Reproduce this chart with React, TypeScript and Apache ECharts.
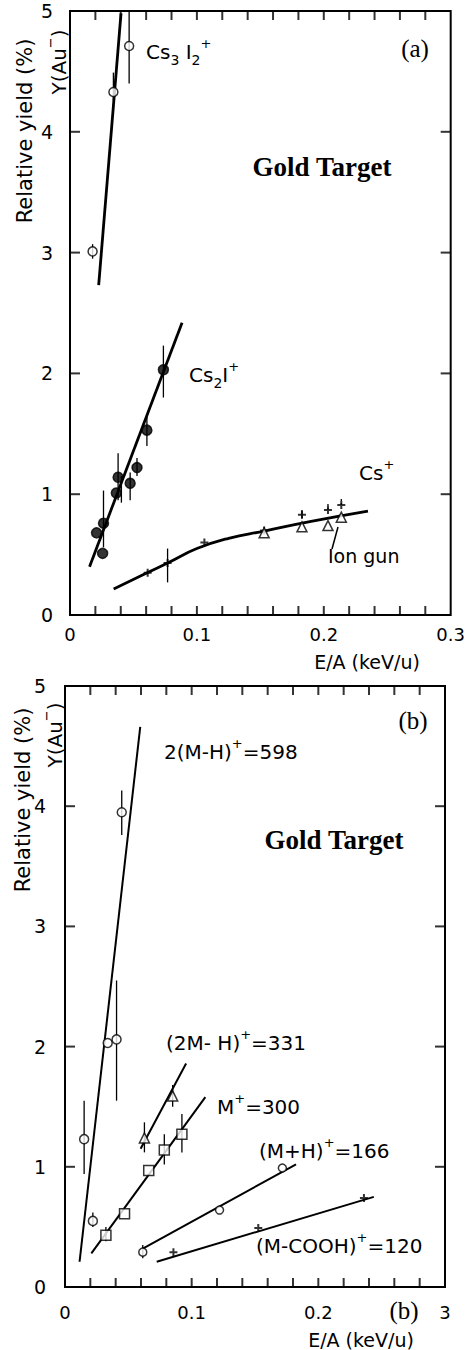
import React, { useEffect, useRef } from "react";
import * as echarts from "echarts";

// ---------- Axes ----------
const xMin = 0;
const xMax = 0.3;
const yMin = 0;
const yMax = 5;
const xTickValues = [0.02, 0.04, 0.06, 0.08, 0.1, 0.12, 0.14, 0.16, 0.18, 0.2, 0.22, 0.24, 0.26, 0.28];
const yTickValues = [1, 2, 3, 4];

// ---------- Panel (a) data ----------
const cs3i2Points = [[0.0178, 3.01], [0.0342, 4.33], [0.0466, 4.71]];
const cs3i2Errors = [[0.0178, 2.95, 3.07], [0.0342, 4.26, 4.49], [0.0466, 4.4, 5.0]];
const cs3i2Fit = [[0.0226, 2.73], [0.0402, 4.98]];

const cs2iPoints = [
  [0.0209, 0.68], [0.0257, 0.51], [0.0264, 0.76], [0.0365, 1.01], [0.0379, 1.14],
  [0.0474, 1.09], [0.0528, 1.22], [0.0606, 1.53], [0.0736, 2.03],
];
const cs2iErrors = [
  [0.0264, 0.56, 1.03], [0.0379, 0.95, 1.34], [0.0405, 0.93, 1.15], [0.0474, 0.95, 1.18],
  [0.0528, 1.15, 1.3], [0.0606, 1.4, 1.64], [0.0736, 1.8, 2.23],
];
const cs2iFit = [[0.0154, 0.4], [0.0883, 2.42]];

const csPoints = [
  [0.0612, 0.35], [0.0769, 0.43], [0.1059, 0.6], [0.153, 0.7], [0.1828, 0.83],
  [0.2033, 0.87], [0.2138, 0.91],
];
const csErrors = [[0.0769, 0.27, 0.55], [0.1828, 0.8, 0.87]];
const csDashedErrors = [[0.2033, 0.87, 0.93], [0.2138, 0.91, 0.97]];
const ionGunPoints = [[0.153, 0.68], [0.1828, 0.73], [0.2033, 0.74], [0.2138, 0.81]];
const csFit = [
  [0.0344, 0.215], [0.06, 0.345], [0.0777, 0.435], [0.1, 0.55], [0.125, 0.635],
  [0.153, 0.695], [0.19, 0.775], [0.2348, 0.86],
];

// ---------- Panel (b) data ----------
const m598Points = [[0.0151, 1.23], [0.022, 0.55], [0.0337, 2.03], [0.0407, 2.06], [0.0448, 3.95]];
const m598Errors = [[0.0151, 0.94, 1.55], [0.022, 0.5, 0.62], [0.0407, 1.55, 2.55], [0.0448, 3.76, 4.13]];
const m598Fit = [[0.0115, 0.21], [0.0594, 4.66]];

const m331Points = [[0.0627, 1.24], [0.085, 1.59]];
const m331Errors = [[0.0627, 1.12, 1.37], [0.085, 1.5, 1.68]];
const m331Fit = [[0.0597, 1.15], [0.0956, 1.86]];

const m300Points = [[0.0323, 0.43], [0.047, 0.61], [0.0661, 0.97], [0.0784, 1.14], [0.0923, 1.27]];
const m300Errors = [[0.0323, 0.38, 0.5], [0.0784, 1.02, 1.27], [0.0923, 1.12, 1.44]];
const m300Fit = [[0.0208, 0.28], [0.1108, 1.58]];

const m166Points = [[0.0614, 0.29], [0.122, 0.64], [0.1716, 0.99]];
const m166Errors = [[0.0614, 0.24, 0.35]];
const m166Fit = [[0.0614, 0.32], [0.1824, 1.02]];

const m120Points = [[0.0856, 0.29], [0.1526, 0.49], [0.236, 0.74]];
const m120Fit = [[0.0724, 0.21], [0.2438, 0.75]];

const SANS = "DejaVu Sans";
const SERIF = "Liberation Serif";
const PLUS = "path://M5,0L5,10M0,5L10,5";

const W = 468;
const H = 1350;
const TICK = 9;

function xFormatter(panelB: boolean) {
  return (v: number) => {
    const r = Math.round(v * 10);
    if (Math.abs(v * 10 - r) > 1e-6) return "";
    if (r === 0) return "0";
    if (panelB && r === 3) return "3";
    return String(r / 10);
  };
}

function xAxis(grid: number, panelB: boolean) {
  return {
    type: "value",
    gridIndex: grid,
    min: xMin,
    max: xMax,
    interval: 0.1,
    position: "bottom",
    splitLine: { show: false },
    axisLine: { show: false, onZero: false },
    axisTick: { show: false },
    axisLabel: {
      show: true,
      formatter: xFormatter(panelB),
      color: "#000",
      fontSize: 18,
      fontFamily: SANS,
      margin: panelB ? 16 : 10,
    },
  };
}

function yAxis(grid: number, margin: number) {
  return {
    type: "value",
    gridIndex: grid,
    min: yMin,
    max: yMax,
    interval: 1,
    position: "left",
    splitLine: { show: false },
    axisLine: { show: false, onZero: false },
    axisTick: { show: false },
    axisLabel: { show: true, color: "#000", fontSize: 19, fontFamily: SANS, margin },
  };
}

// inward tick marks drawn as thin rectangle symbols at the frame edges
function tickMarks(idx: number) {
  const mk = (data: number[][], size: number[], offset: number[]) => ({
    type: "scatter",
    xAxisIndex: idx,
    yAxisIndex: idx,
    data,
    symbol: "rect",
    symbolSize: size,
    symbolOffset: offset,
    clip: false,
    silent: true,
    z: 6,
    itemStyle: { color: "#000", borderWidth: 0 },
  });
  return [
    mk(xTickValues.map((v) => [v, yMin]), [2, TICK], [0, -TICK / 2]),
    mk(xTickValues.map((v) => [v, yMax]), [2, TICK], [0, TICK / 2]),
    mk(yTickValues.map((v) => [xMin, v]), [TICK + 1, 2], [(TICK + 1) / 2, 0]),
    mk(yTickValues.map((v) => [xMax, v]), [TICK + 1, 2], [-(TICK + 1) / 2, 0]),
  ];
}

function errSeries(data: number[][], idx: number, dashed = false) {
  return {
    type: "custom",
    xAxisIndex: idx,
    yAxisIndex: idx,
    data,
    encode: { x: 0, y: [1, 2] },
    silent: true,
    z: 1,
    renderItem: (_p: any, api: any) => {
      const x = api.value(0);
      const a = api.coord([x, api.value(1)]);
      const b = api.coord([x, api.value(2)]);
      return {
        type: "line",
        shape: { x1: a[0], y1: a[1], x2: b[0], y2: b[1] },
        style: { stroke: "#000", lineWidth: 1.3, lineDash: dashed ? [2, 2] : null },
      };
    },
  };
}

function fitSeries(data: number[][], idx: number, width: number, smooth: any = false) {
  return {
    type: "line",
    xAxisIndex: idx,
    yAxisIndex: idx,
    data,
    symbol: "none",
    showSymbol: false,
    smooth,
    clip: true,
    silent: true,
    z: 2,
    lineStyle: { color: "#000", width },
  };
}

function ptSeries(data: number[][], idx: number, symbol: string, size: number, filled: boolean) {
  return {
    type: "scatter",
    xAxisIndex: idx,
    yAxisIndex: idx,
    data,
    symbol,
    symbolSize: size,
    silent: true,
    z: 3,
    itemStyle: {
      color: filled ? "#000" : "#fff",
      borderColor: "#000",
      borderWidth: symbol === PLUS ? 2 : 1.5,
    },
  };
}

const richBase = {
  m: { fontSize: 20, fontFamily: SANS, lineHeight: 30, fill: "#000" },
  sub: { fontSize: 14, fontFamily: SANS, lineHeight: 14, verticalAlign: "bottom", fill: "#000" },
  sup: { fontSize: 13, fontFamily: SANS, lineHeight: 13, verticalAlign: "top", fill: "#000" },
};

function label(x: number, y: number, text: string, align = "left", rotation = 0, size = 20) {
  return {
    type: "text",
    x,
    y,
    rotation,
    silent: true,
    style: {
      text,
      fill: "#000",
      align,
      verticalAlign: "middle",
      textAlign: align,
      textVerticalAlign: "middle",
      rich: {
        m: { ...richBase.m, fontSize: size },
        sub: richBase.sub,
        sup: richBase.sup,
      },
    },
  };
}

function serifText(x: number, y: number, text: string, size: number, bold: boolean) {
  return {
    type: "text",
    x,
    y,
    silent: true,
    style: {
      text,
      fill: "#000",
      fontSize: size,
      fontFamily: SERIF,
      fontWeight: bold ? "bold" : "normal",
      align: "center",
      verticalAlign: "middle",
      textAlign: "center",
      textVerticalAlign: "middle",
    },
  };
}

function plainText(x: number, y: number, text: string, size: number, align = "left", rotation = 0) {
  return {
    type: "text",
    x,
    y,
    rotation,
    silent: true,
    style: {
      text,
      fill: "#000",
      fontSize: size,
      fontFamily: SANS,
      align,
      verticalAlign: "middle",
      textAlign: align,
      textVerticalAlign: "middle",
    },
  };
}

export default function App() {
  const ref = useRef<HTMLDivElement>(null);
  useEffect(() => {
    if (!ref.current) return;
    const chart = echarts.init(ref.current, null, { renderer: "svg" });
    const gridStyle = { show: true, borderColor: "#000", borderWidth: 2, backgroundColor: "transparent", containLabel: false };
    const option: any = {
      animation: false,
      backgroundColor: "#fff",
      grid: [
        { left: 70, right: 17, top: 11, bottom: 735, ...gridStyle },
        { left: 65, right: 23, top: 686, bottom: 63, ...gridStyle },
      ],
      xAxis: [xAxis(0, false), xAxis(1, true)],
      yAxis: [yAxis(0, 17), yAxis(1, 19)],
      series: [
        ...tickMarks(0),
        ...tickMarks(1),
        // Panel (a)
        fitSeries(cs3i2Fit, 0, 2.8),
        errSeries(cs3i2Errors, 0),
        ptSeries(cs3i2Points, 0, "circle", 9, false),
        fitSeries(cs2iFit, 0, 2.8),
        errSeries(cs2iErrors, 0),
        ptSeries(cs2iPoints, 0, "circle", 10, true),
        fitSeries(csFit, 0, 2.8, 0.5),
        errSeries(csErrors, 0),
        errSeries(csDashedErrors, 0, true),
        ptSeries(csPoints, 0, PLUS, 8, true),
        ptSeries(ionGunPoints, 0, "triangle", 10, false),
        // Panel (b)
        fitSeries(m598Fit, 1, 2),
        errSeries(m598Errors, 1),
        ptSeries(m598Points, 1, "circle", 9, false),
        fitSeries(m331Fit, 1, 2),
        errSeries(m331Errors, 1),
        ptSeries(m331Points, 1, "triangle", 10, false),
        fitSeries(m300Fit, 1, 2),
        errSeries(m300Errors, 1),
        ptSeries(m300Points, 1, "rect", 10, false),
        fitSeries(m166Fit, 1, 2),
        errSeries(m166Errors, 1),
        ptSeries(m166Points, 1, "circle", 8, false),
        fitSeries(m120Fit, 1, 2),
        ptSeries(m120Points, 1, PLUS, 8, true),
      ],
      graphic: [
        // Panel (a) annotations
        plainText(25, 131, "Relative yield (%)", 21, "center", Math.PI / 2),
        label(59, 62, "{m|Y(Au}{sup|−}{m|)}", "center", Math.PI / 2, 20),
        label(146, 52, "{m|Cs}{sub|3}{m| I}{sub|2}{sup|+}"),
        serifText(415, 48, "(a)", 25, false),
        serifText(322, 167, "Gold Target", 27, true),
        label(189, 375, "{m|Cs}{sub|2}{m|I}{sup|+}"),
        label(359, 473, "{m|Cs}{sup|+}"),
        plainText(328, 556, "Ion gun", 19),
        { type: "line", silent: true, shape: { x1: 332, y1: 549, x2: 338, y2: 527 }, style: { stroke: "#000", lineWidth: 1.5 } },
        plainText(367, 662, "E/A (keV/u)", 19, "center"),
        // Panel (b) annotations
        plainText(23, 800, "Relative yield (%)", 21, "center", Math.PI / 2),
        label(55, 735, "{m|Y(Au}{sup|−}{m|)}", "center", Math.PI / 2, 20),
        serifText(413, 720, "(b)", 25, false),
        label(164, 752, "{m|2(M-H)}{sup|+}{m|=598}"),
        serifText(334, 840, "Gold Target", 27, true),
        label(166, 1043, "{m|(2M- H)}{sup|+}{m|=331}"),
        label(217, 1107, "{m|M}{sup|+}{m|=300}"),
        label(259, 1151, "{m|(M+H)}{sup|+}{m|=166}"),
        label(256, 1246, "{m|(M-COOH)}{sup|+}{m|=120}"),
        serifText(404, 1310, "(b)", 25, false),
        plainText(361, 1340, "E/A (keV/u)", 19, "center"),
      ],
    };
    chart.setOption(option);
    return () => chart.dispose();
  }, []);
  return (
    <div
      ref={ref}
      style={{ position: "absolute", left: 0, top: 0, width: W, height: H, background: "#fff" }}
    />
  );
}
